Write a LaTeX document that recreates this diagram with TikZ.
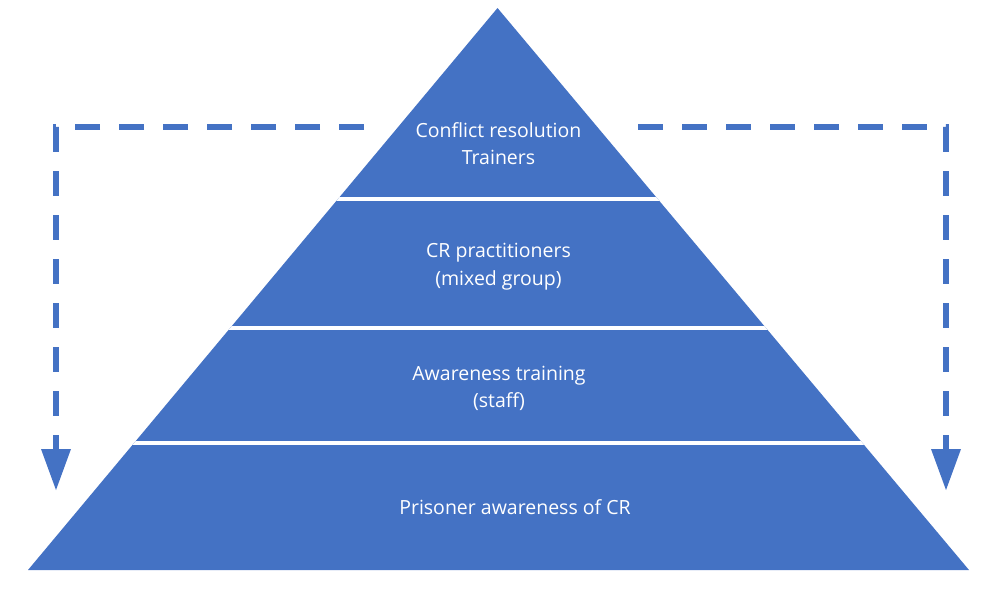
\documentclass[tikz,border=0pt]{standalone}
\usepackage{fontspec}
\setmainfont{Open Sans}
\usetikzlibrary{arrows.meta}
\definecolor{pyblue}{HTML}{4472C4}
\begin{document}
\begin{tikzpicture}[x=1pt,y=-1pt,
  lbl/.style={text=white,font=\fontsize{19.5}{27.4}\selectfont,align=center,inner sep=0pt},
  flow/.style={draw=pyblue,line width=6pt,dash pattern=on 25pt off 19pt,
    -{Triangle[length=41pt,width=30pt,line width=0pt]}},
  band/.style={white,line width=4.5pt}]
\useasboundingbox (0,0) rectangle (1000,590);
\coordinate (apex) at (497.5,8);
\coordinate (bl) at (28,570);
\coordinate (br) at (969,570);
\fill[pyblue] (apex) -- (bl) -- (br) -- cycle;
\begin{scope}
  \clip (apex) -- (bl) -- (br) -- cycle;
  \foreach \y in {199,328,443} \draw[band] (0,\y) -- (1000,\y);
\end{scope}
\node[lbl] (t1) at (498.5,143.5) {Conflict resolution\\Trainers};
\node[lbl] (t2) at (498.5,266.5) {CR practitioners\\(mixed group)};
\node[lbl] (t3) at (499,388.5) {Awareness training\\(staff)};
\node[lbl] (t4) at (515,507.5) {Prisoner awareness of CR};
\coordinate (ls) at (364,127);
\coordinate (lc) at (56,127);
\coordinate (le) at (56,490);
\coordinate (rs) at (638,127);
\coordinate (rc) at (946,127);
\coordinate (re) at (946,490);
\draw[flow] (ls) -- (lc) -- (le);
\draw[flow] (rs) -- (rc) -- (re);
\end{tikzpicture}
\end{document}
